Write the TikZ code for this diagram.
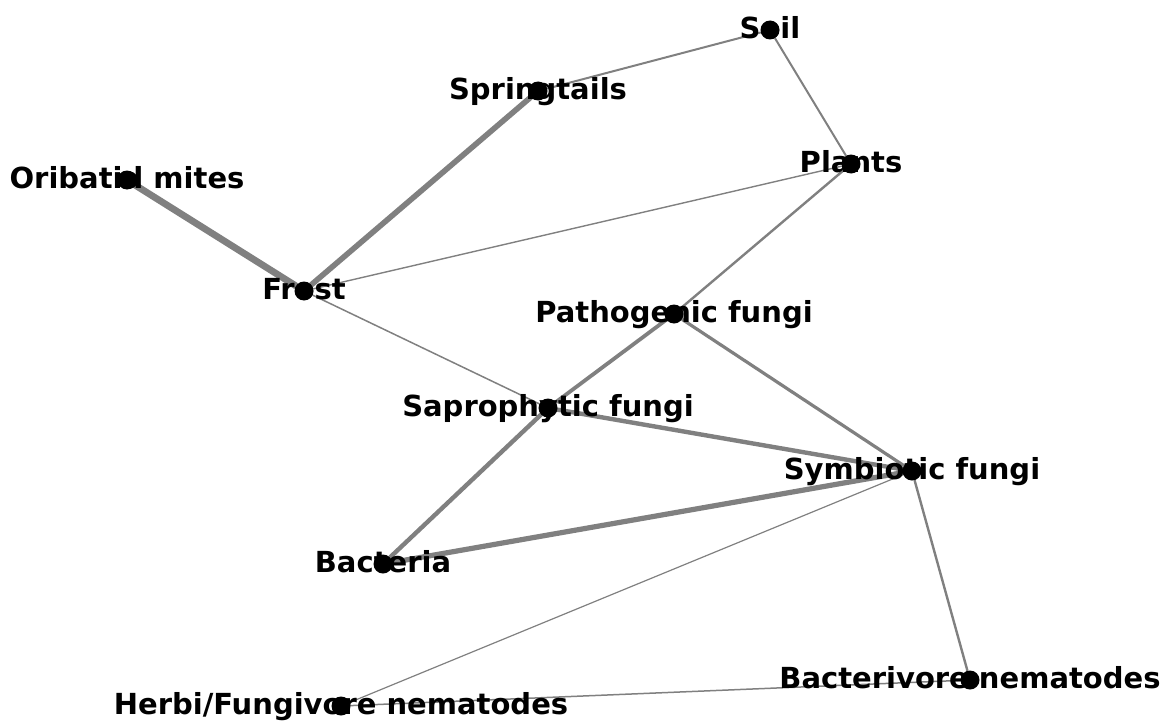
\documentclass[tikz,border=0pt]{standalone}
\usepackage{fontspec}
\setmainfont{DejaVu Sans}
\usetikzlibrary{positioning}

\pgfdeclarelayer{edges}
\pgfdeclarelayer{labels}
\pgfsetlayers{edges,labels,main}

\begin{document}
\begin{tikzpicture}[
        x=0.5pt, y=-0.5pt,
        % styles
        dot/.style={circle, fill=black, inner sep=0pt, minimum size=9.5pt},
        lbl/.style={anchor=mid, inner sep=0pt, yshift=-1.5pt, font=\fontsize{14.5pt}{16pt}\bfseries},
        edge/.style={draw=black!50, line cap=round} ]

    \useasboundingbox (0,0) rectangle (1171,722);

    % --- DOTS ---
    \node (soil)     [dot] at (770,30)  {};
    \node (spring)   [dot] at (538,91)  {};
    \node (plants)   [dot] at (851,164) {};
    \node (oribatid) [dot] at (127,180) {};
    \node (frost)    [dot] at (304,291) {};
    \node (patho)    [dot] at (674,314) {};
    \node (sapro)    [dot] at (548,408) {};
    \node (symb)     [dot] at (912,471) {};
    \node (bact)     [dot] at (383,564) {};
    \node (bactnem)  [dot] at (970,680) {};
    \node (herbnem)  [dot] at (341,706) {};

    % --- LABELS (under the dots) ---
    \begin{pgfonlayer}{labels}
    \node (soil-l)     [lbl] at (soil)     {Soil};
    \node (spring-l)   [lbl] at (spring)   {Springtails};
    \node (plants-l)   [lbl] at (plants)   {Plants};
    \node (oribatid-l) [lbl] at (oribatid) {Oribatid mites};
    \node (frost-l)    [lbl] at (frost)    {Frost};
    \node (patho-l)    [lbl] at (patho)    {Pathogenic fungi};
    \node (sapro-l)    [lbl] at (sapro)    {Saprophytic fungi};
    \node (symb-l)     [lbl] at (symb)     {Symbiotic fungi};
    \node (bact-l)     [lbl] at (bact)     {Bacteria};
    \node (bactnem-l)  [lbl] at (bactnem)  {Bacterivore nematodes};
    \node (herbnem-l)  [lbl] at (herbnem)  {Herbi/Fungivore nematodes};
    \end{pgfonlayer}

    % --- CONNECTIONS ---
    \begin{pgfonlayer}{edges}
    \draw [edge, line width=3.4pt]  (oribatid) -- (frost);
    \draw [edge, line width=2.8pt]  (spring) -- (frost);
    \draw [edge, line width=1pt]    (spring) -- (soil);
    \draw [edge, line width=1pt]    (soil) -- (plants);
    \draw [edge, line width=0.7pt]  (frost) -- (plants);
    \draw [edge, line width=0.75pt] (frost) -- (sapro);
    \draw [edge, line width=1.2pt]  (plants) -- (patho);
    \draw [edge, line width=1.9pt]  (patho) -- (sapro);
    \draw [edge, line width=1.6pt]  (patho) -- (symb);
    \draw [edge, line width=2.2pt]  (sapro) -- (symb);
    \draw [edge, line width=2.2pt]  (sapro) -- (bact);
    \draw [edge, line width=2.6pt]  (bact) -- (symb);
    \draw [edge, line width=0.6pt]  (symb) -- (herbnem);
    \draw [edge, line width=1.2pt]  (symb) -- (bactnem);
    \draw [edge, line width=0.75pt] (herbnem) -- (bactnem);
    \end{pgfonlayer}

\end{tikzpicture}
\end{document}
